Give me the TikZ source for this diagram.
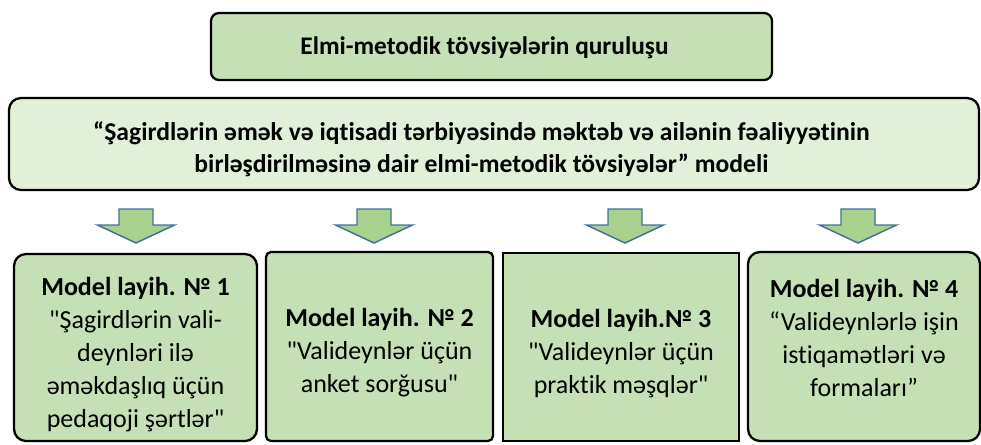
\documentclass[tikz,border=0pt]{standalone}
\usepackage{fontspec}
\setmainfont{Carlito}[Ligatures={TeXOff,CommonOff}]
\definecolor{boxgreen}{HTML}{C5E0B4}
\definecolor{palegreen}{HTML}{E2F0D9}
\definecolor{arrowgreen}{HTML}{A9D18E}
\definecolor{arrowblue}{HTML}{41719C}
\begin{document}
\begin{tikzpicture}[x=0.75pt, y=-0.75pt,
    frame/.style={draw=black, line width=1.7pt, fill=boxgreen, inner sep=0pt},
    boxtext/.style={align=center, font=\fontsize{19.5}{24.75}\selectfont},
    downarrow/.style={draw=arrowblue, fill=arrowgreen, line width=1.1pt}]
    \useasboundingbox (0,0) rectangle (981,444);
    % top boxes
    \node[frame, rounded corners=6pt, minimum width=420.75pt, minimum height=50.25pt] (title) at (491.5,46.5) {};
    \node[font=\bfseries\fontsize{19}{24}\selectfont] (titletext) at (484.5,48) {Elmi-metodik tövsiyələrin quruluşu};
    \node[frame, fill=palegreen, rounded corners=9pt, minimum width=727.5pt, minimum height=69pt] (model) at (494,144) {};
    \node[align=center, font=\bfseries\fontsize{19.2}{24}\selectfont] (modeltext) at (481.5,149)
      {“Şagirdlərin əmək və iqtisadi tərbiyəsində məktəb və ailənin fəaliyyətinin\\
       birləşdirilməsinə dair elmi-metodik tövsiyələr” modeli};
    % arrows
    \foreach \x in {136,374,625,858}
    \draw[downarrow] (\x-17,209) -- (\x+17,209) -- (\x+17,225) -- (\x+38.5,225)
      -- (\x,243) -- (\x-38.5,225) -- (\x-17,225) -- cycle;
    % model projects
    \node[frame, rounded corners=9pt, minimum width=182.25pt, minimum height=140.25pt] (m1) at (135.5,347.5) {};
    \node[frame, rounded corners=3.75pt, minimum width=170.25pt, minimum height=141.75pt] (m2) at (379.5,346.5) {};
    \node[frame, minimum width=177pt, minimum height=141pt] (m3) at (621,347) {};
    \node[frame, rounded corners=9pt, minimum width=174pt, minimum height=141.75pt] (m4) at (864,346.5) {};
    \node[boxtext] (m1text) at (135.5,354.5) {\textbf{Model layih. № 1}\\"Şagirdlərin vali-\\deynləri ilə\\əməkdaşlıq üçün\\pedaqoji şərtlər"};
    \node[boxtext] (m2text) at (379.5,352.5) {\textbf{Model layih. № 2}\\"Valideynlər üçün\\anket sorğusu"};
    \node[boxtext] (m3text) at (621,354) {\textbf{Model layih.№ 3}\\"Valideynlər üçün\\praktik məşqlər"};
    \node[boxtext] (m4text) at (864,337.5) {\textbf{Model layih. № 4}\\“Valideynlərlə işin\\istiqamətləri və\\formaları”};
\end{tikzpicture}
\end{document}
